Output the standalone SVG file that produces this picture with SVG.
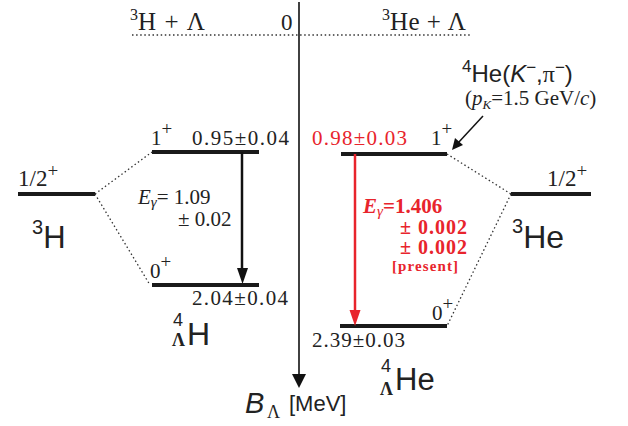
<svg xmlns="http://www.w3.org/2000/svg" width="628" height="426" viewBox="0 0 628 426">
<defs>
<style>
.serif{font-family:"Liberation Serif","Times New Roman",serif;fill:#222}
.sans{font-family:"Liberation Sans",Arial,sans-serif;fill:#222}
.lvl{stroke:#1a1a1a;stroke-width:4}
.dot{stroke:#333;stroke-width:1.3;stroke-dasharray:1.5 2.6;fill:none}
.red{fill:#e8242c}
.sup{font-size:16px}
</style>
</defs>
<rect width="628" height="426" fill="#fff"/>

<g id="threshold">
<line x1="132" y1="35" x2="470" y2="35" class="dot" stroke-width="2"/>
<text class="serif" x="130" y="30" font-size="25"><tspan class="sup" dy="-10">3</tspan><tspan dy="10" textLength="67" lengthAdjust="spacing">H + Λ</tspan></text>
<text class="serif" x="281" y="30" font-size="23">0</text>
<text class="serif" x="382" y="30" font-size="25"><tspan class="sup" dy="-10">3</tspan><tspan dy="10" textLength="76" lengthAdjust="spacing">He + Λ</tspan></text>
</g>

<g id="H3">
<line x1="18" y1="194" x2="95" y2="194" class="lvl"/>
<text class="serif" x="18" y="186" font-size="23">1/2<tspan font-size="19" dy="-9">+</tspan></text>
<text class="sans" x="32" y="248" font-size="31"><tspan font-size="20" dy="-14">3</tspan><tspan dy="14">H</tspan></text>
</g>

<g id="H4L-1plus">
<line x1="152" y1="152" x2="259" y2="152" class="lvl"/>
<text class="serif" x="151" y="145" font-size="21">1<tspan font-size="19" dy="-10">+</tspan></text>
<text class="serif" x="192" y="145" font-size="21" textLength="97" lengthAdjust="spacing">0.95±0.04</text>
</g>

<g id="H4L-0plus">
<line x1="152" y1="285" x2="259" y2="285" class="lvl"/>
<text class="serif" x="150" y="278" font-size="21">0<tspan font-size="19" dy="-10">+</tspan></text>
<text class="serif" x="192" y="305" font-size="21" textLength="96" lengthAdjust="spacing">2.04±0.04</text>
</g>

<g id="H4L-label">
<text class="sans" x="173" y="326" font-size="18">4</text>
<text class="serif" x="172" y="346" font-size="18" font-weight="bold">Λ</text>
<text class="sans" x="187" y="345" font-size="32">H</text>
</g>

<g id="He3">
<line x1="511" y1="194" x2="591" y2="194" class="lvl"/>
<text class="serif" x="547" y="186" font-size="23">1/2<tspan font-size="19" dy="-9">+</tspan></text>
<text class="sans" x="512" y="248" font-size="32"><tspan font-size="20" dy="-15">3</tspan><tspan dy="15">He</tspan></text>
</g>

<g id="He4L-1plus">
<line x1="341" y1="154" x2="447" y2="154" class="lvl"/>
<text class="serif red" x="312" y="145" font-size="21" textLength="95" lengthAdjust="spacing">0.98±0.03</text>
<text class="serif" x="431" y="145" font-size="21">1<tspan font-size="19" dy="-10">+</tspan></text>
</g>

<g id="He4L-0plus">
<line x1="340" y1="326" x2="447" y2="326" class="lvl"/>
<text class="serif" x="432" y="320" font-size="21">0<tspan font-size="19" dy="-10">+</tspan></text>
<text class="serif" x="312" y="347" font-size="21" textLength="93" lengthAdjust="spacing">2.39±0.03</text>
</g>

<g id="He4L-label">
<text class="sans" x="381" y="372" font-size="18">4</text>
<text class="serif" x="380" y="395" font-size="18" font-weight="bold">Λ</text>
<text class="sans" x="395" y="390" font-size="31">He</text>
</g>

<g id="reaction">
<text class="sans" x="462" y="82" font-size="24"><tspan font-size="17" dy="-10">4</tspan><tspan dy="10">He(</tspan><tspan font-style="italic">K</tspan><tspan font-size="17" dy="-9">−</tspan><tspan dy="9">,</tspan><tspan font-family="Liberation Serif,serif">π</tspan><tspan font-size="17" dy="-9">−</tspan><tspan dy="9">)</tspan></text>
<text class="serif" x="465" y="105" font-size="21">(<tspan font-style="italic">p</tspan><tspan font-style="italic" font-size="13" dy="4">K</tspan><tspan dy="-4">=1.5 GeV/</tspan><tspan font-style="italic">c</tspan>)</text>
</g>

<g id="axis-label">
<text class="sans" x="245" y="413" font-size="29" font-style="italic">B</text>
<text class="serif" x="267" y="418" font-size="18">Λ</text>
<text class="sans" x="289" y="411" font-size="22">[MeV]</text>
</g>

<g id="gamma-labels">
<text class="serif" x="138" y="204" font-size="21"><tspan font-style="italic">E</tspan><tspan font-style="italic" font-size="15" dy="3">γ</tspan><tspan dy="-3">= 1.09</tspan></text>
<text class="serif" x="178" y="226" font-size="21">± 0.02</text>
<text class="serif red" x="363" y="213" font-size="21" font-weight="bold"><tspan font-style="italic">E</tspan><tspan font-style="italic" font-size="15" font-weight="normal" dy="3">γ</tspan><tspan dy="-3">=1.406</tspan></text>
<text class="serif red" x="400" y="234" font-size="20" font-weight="bold" textLength="67" lengthAdjust="spacing">± 0.002</text>
<text class="serif red" x="400" y="254" font-size="20" font-weight="bold" textLength="67" lengthAdjust="spacing">± 0.002</text>
<text class="serif red" x="392" y="271" font-size="15" font-weight="bold" textLength="66" lengthAdjust="spacing">[present]</text>
</g>

<g id="connectors">
<line x1="299" y1="2" x2="299" y2="376" stroke="#111" stroke-width="1.6"/>
<polygon points="292,374 306,374 299,388" fill="#111"/>
<line x1="95" y1="194" x2="152" y2="152" class="dot"/>
<line x1="95" y1="194" x2="150" y2="285" class="dot"/>
<line x1="447" y1="154" x2="511" y2="194" class="dot"/>
<line x1="511" y1="194" x2="447" y2="326" class="dot"/>
<line x1="242" y1="152" x2="242" y2="270" stroke="#111" stroke-width="2.5"/>
<polygon points="237,268 248,268 242.5,284" fill="#111"/>
<line x1="355" y1="154" x2="355" y2="312" stroke="#e8242c" stroke-width="2.5"/>
<polygon points="349.5,310 360.5,310 355,326" fill="#e8242c"/>
<line x1="483" y1="116" x2="458" y2="143" stroke="#111" stroke-width="1.5"/>
<polygon points="452,150 455,138 463,145" fill="#111"/>
</g>
</svg>
